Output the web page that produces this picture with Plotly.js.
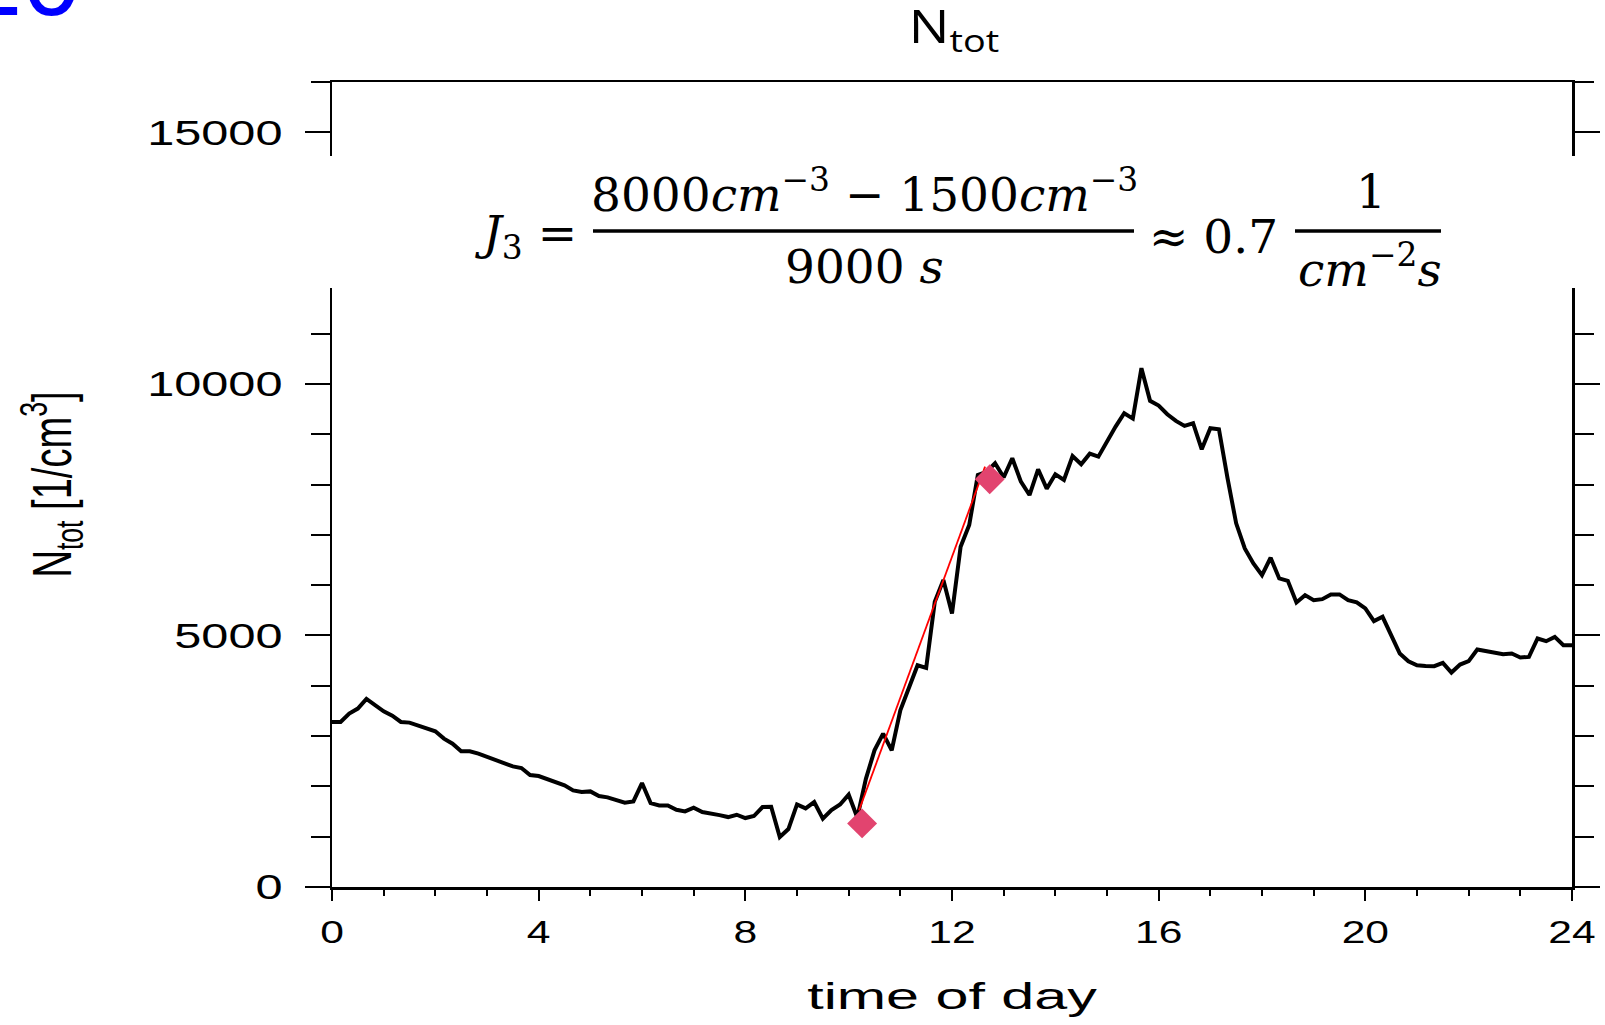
<!DOCTYPE html>
<html><head><meta charset="utf-8">
<script src="https://cdn.plot.ly/plotly-3.0.1.min.js"></script>
<style>html,body{margin:0;padding:0;background:#fff;}#chart{width:1605px;height:1025px;}</style>
</head><body><div id="chart"></div>
<script>
// time of day in minutes (10-minute samples)
const minutes = [0,10,20,30,40,50,60,70,80,90,100,110,120,130,140,150,160,170,180,190,200,210,220,230,240,250,260,270,280,290,300,310,320,330,340,350,360,370,380,390,400,410,420,430,440,450,460,470,480,490,500,510,520,530,540,550,560,570,580,590,600,610,620,630,640,650,660,670,680,690,700,710,720,730,740,750,760,770,780,790,800,810,820,830,840,850,860,870,880,890,900,910,920,930,940,950,960,970,980,990,1000,1010,1020,1030,1040,1050,1060,1070,1080,1090,1100,1110,1120,1130,1140,1150,1160,1170,1180,1190,1200,1210,1220,1230,1240,1250,1260,1270,1280,1290,1300,1310,1320,1330,1340,1350,1360,1370,1380,1390,1400,1410,1420,1430,1440];
// total particle number concentration N_tot [1/cm^3]
const ntot = [3280,3280,3446,3546,3738,3612,3492,3406,3280,3267,3214,3148,3094,2949,2849,2696,2696,2650,2584,2537,2451,2398,2365,2225,2206,2139,2066,2020,1920,1887,1900,1808,1781,1728,1675,1701,2066,1668,1622,1622,1536,1502,1575,1489,1469,1429,1390,1436,1370,1410,1589,1595,992,1151,1642,1562,1688,1357,1530,1640,1835,1380,2150,2716,3049,2716,3512,3944,4408,4355,5668,6100,5437,6762,7194,8189,8250,8422,8143,8521,8056,7791,8302,7917,8203,8090,8567,8402,8613,8553,8866,9151,9417,9310,10312,9662,9569,9397,9264,9164,9218,8700,9118,9098,8120,7228,6730,6432,6199,6544,6133,6086,5656,5801,5701,5721,5815,5815,5701,5656,5536,5284,5370,5005,4640,4488,4408,4395,4388,4454,4262,4421,4488,4720,4687,4660,4627,4640,4561,4574,4939,4886,4972,4806,4806];
// linear growth fit (red line) and its end markers
const fitTime = [10.2, 12.64];
const fitN = [1522, 8355];
const markTime = [10.26, 12.73];
const markN = [1264, 8104];
// axis ticks
const xTickVals = [0,4,8,12,16,20,24];
const xTickText = ['0','4','8','12','16','20','24'];
const yTickVals = [0,5000,10000,15000];
const yTickText = ['0','5000','10000','15000'];

const W=1605, H=1025, M={l:332,r:33,t:82,b:138};
const PW=W-M.l-M.r, PH=H-M.t-M.b;
const px = x => (x-M.l)/PW;
const py = y => (H-M.b-y)/PH;

const hours = minutes.map(m => m/60);

const traces = [
  {x: hours, y: ntot, type:'scatter', mode:'lines', line:{color:'#000000', width:4}, hoverinfo:'skip'},
  {x: fitTime, y: fitN, type:'scatter', mode:'lines', line:{color:'#ff0000', width:1.8}},
  {x: markTime, y: markN, type:'scatter', mode:'markers', marker:{symbol:'diamond', size:23, color:'#e2446f', line:{width:0}}}
];

const sans = 'Liberation Sans, Arial, sans-serif';
const serif = 'DejaVu Serif, Liberation Serif, serif';
const fsz = 47;
function ann(text, x, y, xa, extra) {
  return Object.assign({text:text, xref:'paper', yref:'paper', x:px(x), y:py(y), xanchor:xa||'center', yanchor:'middle',
    showarrow:false, borderpad:0, font:{family:serif, size:fsz, color:'#000'}}, extra||{});
}

const layout = {
  width:W, height:H, margin:M, showlegend:false,
  paper_bgcolor:'#ffffff', plot_bgcolor:'#ffffff',
  font:{family:sans, color:'#000'},
  title:{text:'N<sub>tot</sub>', font:{family:'Open Sans, Noto Sans, sans-serif', size:45, color:'#000'},
         xref:'paper', x:px(954), xanchor:'center', yref:'container', y:1-27/H, yanchor:'middle'},
  xaxis:{range:[0,24], tickmode:'array', tickvals:xTickVals, ticktext:xTickText,
    ticks:'outside', ticklen:11, tickwidth:2, tickcolor:'#000', ticklabelstandoff:4,
    minor:{tick0:0, dtick:1, ticks:'outside', ticklen:6, tickwidth:2, tickcolor:'#000', showgrid:false},
    showline:true, linecolor:'#000', linewidth:2.5, mirror:true, showgrid:false, zeroline:false,
    tickfont:{family:sans, size:32, color:'#000'},
    title:{text:'time of day', font:{family:sans, size:37, color:'#000'}, standoff:34}},
  yaxis:{range:[0,16000], tickmode:'array', tickvals:yTickVals, ticktext:yTickText,
    ticks:'outside', ticklen:25, tickwidth:2, tickcolor:'#000', ticklabelstandoff:15,
    minor:{tick0:0, dtick:1000, ticks:'outside', ticklen:19, tickwidth:2, tickcolor:'#000', showgrid:false},
    showline:true, linecolor:'#000', linewidth:2.5, mirror:'ticks', showgrid:false, zeroline:false,
    tickfont:{family:sans, size:35, color:'#000'},
    title:{text:'N<sub>tot</sub> [1/cm<sup>3</sup>]', font:{family:sans, size:56, color:'#000'}, standoff:96}},
  shapes:[
    {type:'rect', layer:'above', xref:'paper', yref:'paper', x0:px(292), x1:px(1605), y0:py(288), y1:py(156), fillcolor:'#ffffff', line:{width:0}},
    {type:'line', layer:'above', xref:'paper', yref:'paper', x0:px(593), x1:px(1134), y0:py(231), y1:py(231), line:{color:'#000', width:3.5}},
    {type:'line', layer:'above', xref:'paper', yref:'paper', x0:px(1295), x1:px(1441), y0:py(231), y1:py(231), line:{color:'#000', width:3.5}}
  ],
  annotations:[
    ann('<i>J</i><sub>3</sub> =', 578, 236, 'right'),
    ann('8000<i>cm</i><sup>−3</sup> − 1500<i>cm</i><sup>−3</sup>', 864, 191),
    ann('9000 <i>s</i>', 864, 266),
    ann('≈ 0.7', 1213, 236),
    ann('1', 1371, 191),
    ann('<i>cm</i><sup>−2</sup><i>s</i>', 1370, 266),
    {text:'20', xref:'paper', yref:'paper', x:px(-37), y:py(38), xanchor:'left', yanchor:'bottom', showarrow:false, borderpad:0,
     font:{family:sans, size:105, color:'#0000ff'}}
  ]
};

function stretch(sel, f) {
  document.querySelectorAll(sel).forEach(t => {
    const len = t.getComputedTextLength();
    if (len > 0) { t.setAttribute('textLength', (len*f).toFixed(1)); t.setAttribute('lengthAdjust','spacingAndGlyphs'); }
  });
}

Plotly.newPlot('chart', traces, layout, {staticPlot:true, displayModeBar:false}).then(() => {
  stretch('g.ytick text', 1.39);
  stretch('g.xtick text', 1.33);
  stretch('text.xtitle', 1.6);
  stretch('text.ytitle', 0.68);
  stretch('text.gtitle', 1.2);
});
</script></body></html>
